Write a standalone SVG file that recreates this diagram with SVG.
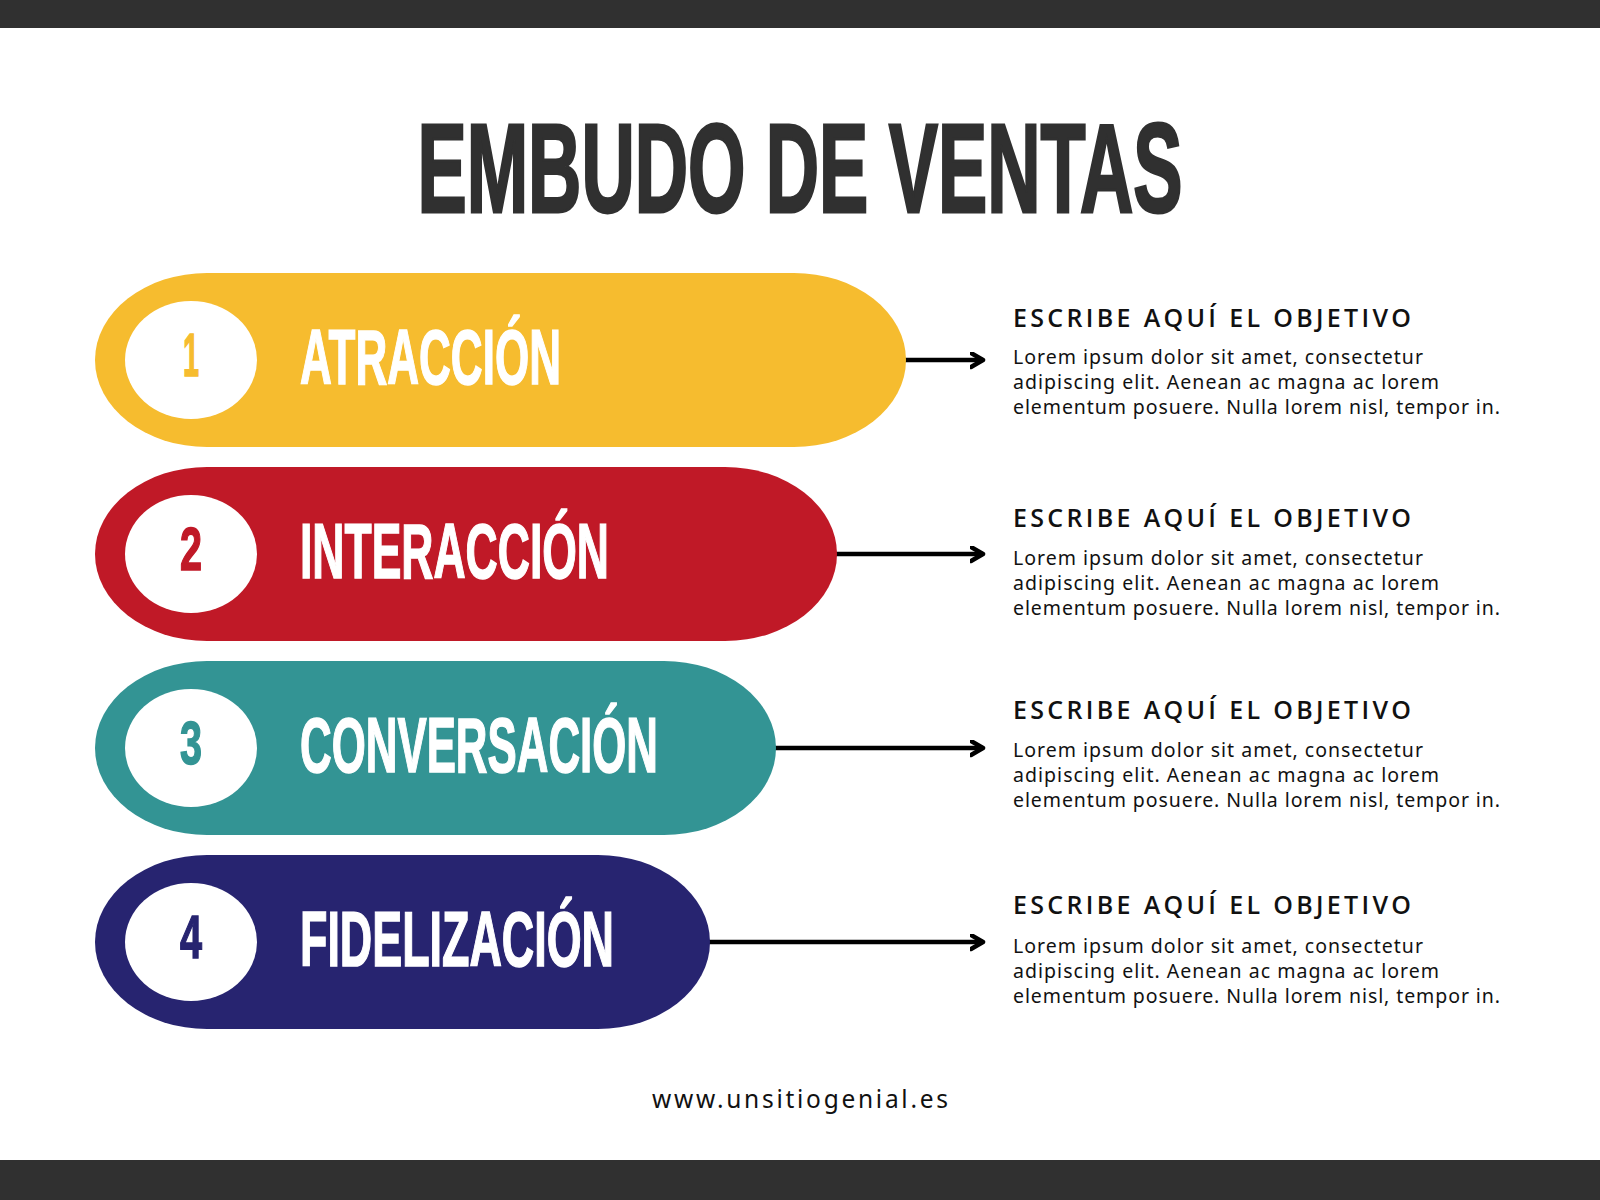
<svg xmlns="http://www.w3.org/2000/svg" width="1600" height="1200" viewBox="0 0 1600 1200">
  <style>
    .bar { fill: #303030; }
    .title { font-family: "Liberation Sans", Arial, sans-serif; font-weight: 700; font-size: 127px; fill: #303030; stroke: #303030; stroke-width: 3; stroke-linejoin: miter; text-anchor: middle; }
    .label { font-family: "Liberation Sans", Arial, sans-serif; font-weight: 700; font-size: 78px; fill: #ffffff; stroke: #ffffff; stroke-width: 1.5; }
    .num { font-family: "Liberation Sans", Arial, sans-serif; font-weight: 700; font-size: 61px; text-anchor: middle; stroke-width: 1.5; }
    .badge { fill: #ffffff; }
    .head { font-family: "Open Sans", "Noto Sans", sans-serif; font-weight: 600; font-size: 25px; fill: #111111; }
    .body { font-family: "Noto Sans", "Open Sans", sans-serif; font-weight: 400; font-size: 19.5px; fill: #111111; }
    .foot { font-family: "Noto Sans", "Open Sans", sans-serif; font-weight: 400; font-size: 24.5px; fill: #111111; }
    .conn { stroke: #000000; stroke-width: 4.5; fill: none; }
    .y { fill: #F6BC2F; } .r { fill: #C01927; } .t { fill: #339494; } .n { fill: #272470; }
  </style>
  <defs>
    <marker id="arrow" markerUnits="userSpaceOnUse" markerWidth="20" markerHeight="20" refX="13" refY="8" orient="auto">
      <path d="M1,1 L13,8 L1,15" fill="none" stroke="#000000" stroke-width="4.5" stroke-linecap="round" stroke-linejoin="round"/>
    </marker>
  </defs>

  <rect width="1600" height="1200" fill="#ffffff"/>
  <rect class="bar" x="0" y="0" width="1600" height="28"/>
  <rect class="bar" x="0" y="1160" width="1600" height="40"/>

  <text class="title" transform="translate(800,212) scale(0.581,1)" x="0" y="0">EMBUDO DE VENTAS</text>

  <g id="connectors">
    <line class="conn" x1="904" y1="360" x2="983" y2="360" marker-end="url(#arrow)"/>
    <line class="conn" x1="835" y1="554" x2="983" y2="554" marker-end="url(#arrow)"/>
    <line class="conn" x1="774" y1="748" x2="983" y2="748" marker-end="url(#arrow)"/>
    <line class="conn" x1="708" y1="942" x2="983" y2="942" marker-end="url(#arrow)"/>
  </g>

  <g id="node-1">
    <rect class="y" x="95" y="273" width="811" height="174" rx="112" ry="87"/>
    <ellipse class="badge" cx="191" cy="360" rx="66" ry="59"/>
    <text class="num y" stroke="#F6BC2F" x="191" y="376" textLength="16" lengthAdjust="spacingAndGlyphs">1</text>
    <text class="label" x="300" y="384" textLength="261" lengthAdjust="spacingAndGlyphs">ATRACCIÓN</text>
  </g>
  <g id="node-2">
    <rect class="r" x="95" y="467" width="742" height="174" rx="112" ry="87"/>
    <ellipse class="badge" cx="191" cy="554" rx="66" ry="59"/>
    <text class="num r" stroke="#C01927" x="191" y="570" textLength="22" lengthAdjust="spacingAndGlyphs">2</text>
    <text class="label" x="300" y="578" textLength="309" lengthAdjust="spacingAndGlyphs">INTERACCIÓN</text>
  </g>
  <g id="node-3">
    <rect class="t" x="95" y="661" width="681" height="174" rx="112" ry="87"/>
    <ellipse class="badge" cx="191" cy="748" rx="66" ry="59"/>
    <text class="num t" stroke="#339494" x="191" y="764" textLength="22" lengthAdjust="spacingAndGlyphs">3</text>
    <text class="label" x="300" y="772" textLength="358" lengthAdjust="spacingAndGlyphs">CONVERSACIÓN</text>
  </g>
  <g id="node-4">
    <rect class="n" x="95" y="855" width="615" height="174" rx="112" ry="87"/>
    <ellipse class="badge" cx="191" cy="942" rx="66" ry="59"/>
    <text class="num n" stroke="#272470" x="191" y="958" textLength="22" lengthAdjust="spacingAndGlyphs">4</text>
    <text class="label" x="300" y="966" textLength="314" lengthAdjust="spacingAndGlyphs">FIDELIZACIÓN</text>
  </g>

  <g id="desc-1">
    <text class="head" x="1013" y="327" textLength="398" lengthAdjust="spacing">ESCRIBE AQUÍ EL OBJETIVO</text>
    <text class="body" x="1013" y="364" textLength="410" lengthAdjust="spacing">Lorem ipsum dolor sit amet, consectetur</text>
    <text class="body" x="1013" y="389" textLength="426" lengthAdjust="spacing">adipiscing elit. Aenean ac magna ac lorem</text>
    <text class="body" x="1013" y="414" textLength="487" lengthAdjust="spacing">elementum posuere. Nulla lorem nisl, tempor in.</text>
  </g>
  <g id="desc-2">
    <text class="head" x="1013" y="527" textLength="398" lengthAdjust="spacing">ESCRIBE AQUÍ EL OBJETIVO</text>
    <text class="body" x="1013" y="565" textLength="410" lengthAdjust="spacing">Lorem ipsum dolor sit amet, consectetur</text>
    <text class="body" x="1013" y="590" textLength="426" lengthAdjust="spacing">adipiscing elit. Aenean ac magna ac lorem</text>
    <text class="body" x="1013" y="615" textLength="487" lengthAdjust="spacing">elementum posuere. Nulla lorem nisl, tempor in.</text>
  </g>
  <g id="desc-3">
    <text class="head" x="1013" y="719" textLength="398" lengthAdjust="spacing">ESCRIBE AQUÍ EL OBJETIVO</text>
    <text class="body" x="1013" y="757" textLength="410" lengthAdjust="spacing">Lorem ipsum dolor sit amet, consectetur</text>
    <text class="body" x="1013" y="782" textLength="426" lengthAdjust="spacing">adipiscing elit. Aenean ac magna ac lorem</text>
    <text class="body" x="1013" y="807" textLength="487" lengthAdjust="spacing">elementum posuere. Nulla lorem nisl, tempor in.</text>
  </g>
  <g id="desc-4">
    <text class="head" x="1013" y="914" textLength="398" lengthAdjust="spacing">ESCRIBE AQUÍ EL OBJETIVO</text>
    <text class="body" x="1013" y="953" textLength="410" lengthAdjust="spacing">Lorem ipsum dolor sit amet, consectetur</text>
    <text class="body" x="1013" y="978" textLength="426" lengthAdjust="spacing">adipiscing elit. Aenean ac magna ac lorem</text>
    <text class="body" x="1013" y="1003" textLength="487" lengthAdjust="spacing">elementum posuere. Nulla lorem nisl, tempor in.</text>
  </g>

  <text class="foot" x="652" y="1108" textLength="296" lengthAdjust="spacing">www.unsitiogenial.es</text>
</svg>
